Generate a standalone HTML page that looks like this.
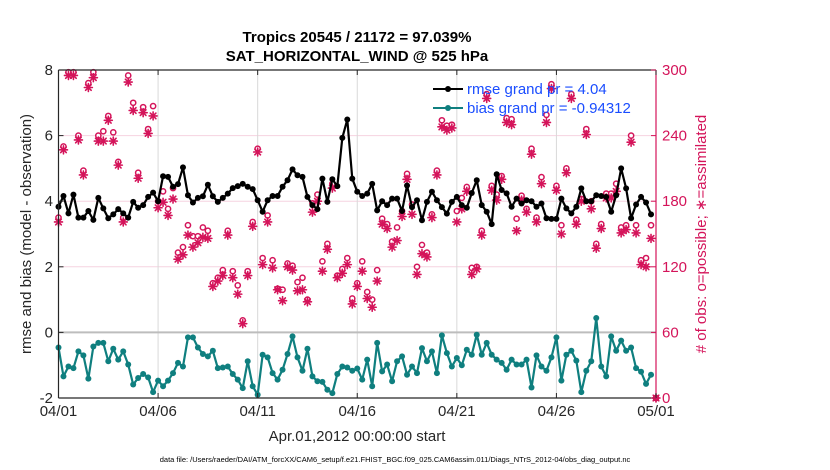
<!DOCTYPE html>
<html><head><meta charset="utf-8"><style>
html,body{margin:0;padding:0;background:#fff;}
svg{display:block;font-family:"Liberation Sans",Arial,sans-serif;}
</style></head><body>
<svg id="chart" width="830" height="470" viewBox="0 0 830 470">
  <rect x="0" y="0" width="830" height="470" fill="#fff"/>
  <g id="grid"></g>
  <g id="obs"></g>
  <g id="lines"></g>
  <g id="axes"></g>
  <text x="357" y="42" text-anchor="middle" font-size="15" font-weight="bold" fill="#000">Tropics 20545 / 21172 = 97.039%</text>
  <text x="357" y="61" text-anchor="middle" font-size="15" font-weight="bold" fill="#000">SAT_HORIZONTAL_WIND @ 525 hPa</text>
  <text transform="translate(31,234) rotate(-90)" text-anchor="middle" font-size="15" fill="#262626">rmse and bias (model - observation)</text>
  <text transform="translate(706,234) rotate(-90)" text-anchor="middle" font-size="15" fill="#d4145a"># of obs: o=possible; ∗=assimilated</text>
  <text x="357" y="441" text-anchor="middle" font-size="15" fill="#262626">Apr.01,2012 00:00:00 start</text>
  <text x="395" y="462" text-anchor="middle" font-size="7.5" fill="#000">data file: /Users/raeder/DAI/ATM_forcXX/CAM6_setup/f.e21.FHIST_BGC.f09_025.CAM6assim.011/Diags_NTrS_2012-04/obs_diag_output.nc</text>
  <g>
    <line x1="433" y1="89" x2="463" y2="89" stroke="#000" stroke-width="2"/>
    <circle cx="448" cy="89" r="3" fill="#000"/>
    <text x="467" y="94" font-size="15" fill="#1a4dff">rmse grand pr = 4.04</text>
    <line x1="433" y1="108" x2="463" y2="108" stroke="#0f7f7f" stroke-width="2"/>
    <circle cx="448" cy="108" r="3" fill="#0f7f7f"/>
    <text x="467" y="113" font-size="15" fill="#1a4dff">bias grand pr = -0.94312</text>
  </g>
</svg>
<script>
const xTickLabels = ["04/01","04/06","04/11","04/16","04/21","04/26","05/01"];
const leftTicks = [-2,0,2,4,6,8];
const rightTicks = [0,60,120,180,240,300];
const rmse = [3.83,4.16,3.63,4.2,3.5,3.5,3.7,3.43,4.1,3.78,3.48,3.6,3.76,3.63,3.5,3.98,3.8,3.88,4.13,4.26,4.0,4.76,4.74,4.44,4.52,5.03,4.18,3.96,4.1,4.15,4.5,4.15,3.98,4.1,4.23,4.4,4.46,4.53,4.44,4.37,4.03,3.68,4.03,4.16,4.16,4.44,4.64,4.97,4.79,4.74,4.13,3.88,3.76,4.69,3.98,4.67,4.46,5.93,6.49,4.69,4.29,4.16,4.23,4.53,3.72,4.0,3.88,4.08,4.08,3.7,4.48,3.82,4.03,3.42,3.98,4.29,4.03,3.82,3.62,3.98,4.13,3.88,3.8,4.25,4.64,3.88,3.68,3.3,4.82,4.34,4.24,3.83,4.08,3.93,4.03,4.0,3.83,3.93,3.48,3.46,3.46,4.08,3.78,3.63,3.83,4.39,4.0,4.0,4.18,4.16,4.13,3.68,4.18,5.0,4.39,3.48,3.9,4.13,3.96,3.6,null];
const bias = [-0.46,-1.34,-1.04,-1.09,-0.58,-0.7,-1.41,-0.43,-0.32,-0.32,-0.88,-0.5,-0.83,-0.58,-0.98,-1.59,-1.39,-1.27,-1.37,-1.82,-1.47,-1.64,-1.47,-1.24,-0.93,-1.04,-0.15,-0.15,-0.46,-0.66,-0.73,-0.56,-1.09,-1.07,-1.04,-1.27,-1.44,-1.7,-0.88,-1.64,-1.9,-0.68,-0.76,-1.24,-1.44,-1.14,-0.66,-0.12,-0.76,-1.17,-0.5,-1.34,-1.49,-1.51,-1.75,-1.85,-1.27,-1.04,-1.07,-1.17,-1.1,-1.44,-0.83,-1.64,-0.32,-1.19,-0.98,-1.49,-0.88,-0.73,-1.29,-1.04,-1.24,-0.48,-0.88,-0.58,-1.24,-0.09,-0.63,-1.04,-0.78,-1.0,-0.53,-0.68,-0.07,-0.68,-0.32,-0.68,-0.83,-0.93,-1.14,-0.83,-0.98,-0.98,-0.83,-1.68,-0.7,-1.04,-1.17,-0.76,-0.15,-1.47,-0.68,-0.56,-0.86,-1.82,-1.17,-0.88,0.44,-1.04,-1.34,-0.12,-0.56,-0.25,-0.56,-0.46,-1.09,-1.2,-1.57,-1.29,null];
const obsAssim = [161,227,295,295,236,204,284,293,235,235,254,235,213,161,289,263,201,261,242,258,174,179,167,182,127,131,149,138,142,147,146,102,107,112,149,110,95,68,112,157,225,122,161,119,99,89,120,117,98,99,88,170,180,116,136,192,110,114,122,86,102,116,91,83,107,159,155,138,144,166,200,168,113,132,129,165,204,248,245,247,161,173,189,113,118,149,274,190,181,200,252,250,153,181,170,223,161,196,252,283,190,150,206,274,159,180,241,173,137,155,183,183,189,151,154,234,151,122,120,146,0];
const obsPoss = [165,230,298,298,240,208,288,298,240,244,258,243,216,165,295,270,206,266,246,267,180,189,173,192,133,138,158,148,148,156,153,105,110,117,153,116,103,71,116,161,228,128,167,126,100,99,123,121,106,110,90,178,186,125,141,196,112,118,128,91,105,125,97,90,117,164,159,143,156,171,205,177,120,140,133,168,208,254,249,250,171,183,193,119,120,153,278,194,186,203,256,255,164,185,173,228,165,202,259,287,194,158,210,278,163,182,246,180,141,159,187,187,196,156,158,240,158,126,128,158,0];

const NS = "http://www.w3.org/2000/svg";
const X0 = 58.5, X1 = 656, Y0 = 398, Y1 = 70;
function xDay(d){ return X0 + d/30*(X1-X0); }
function xIdx(i){ return xDay(i*0.25); }
function yL(v){ return Y0 - (v+2)/10*(Y0-Y1); }
function yR(c){ return Y0 - c/300*(Y0-Y1); }
function mk(tag, attrs, parent){ const e=document.createElementNS(NS,tag); for(const k in attrs) e.setAttribute(k,attrs[k]); parent.appendChild(e); return e; }

const gridG = document.getElementById('grid');
const axesG = document.getElementById('axes');
const obsG = document.getElementById('obs');
const linesG = document.getElementById('lines');

leftTicks.forEach(function(v){
  if(v===-2||v===8||v===0) return;
  const g = mk('line',{x1:X0,x2:X1,y1:yL(v),y2:yL(v),stroke:'#f6d3e0','stroke-width':1},gridG);
  
  
});
xTickLabels.forEach(function(t,k){
  const x = xDay(k*5);
  if(k>0 && k<xTickLabels.length-1){
    const g = mk('line',{x1:x,x2:x,y1:Y1,y2:Y0,stroke:'#d9d9d9','stroke-width':1},gridG);
    
    
  }
});
const zeroLine = mk('line',{x1:X0,x2:X1,y1:yL(0),y2:yL(0),stroke:'#bdbdbd','stroke-width':2},gridG);



function drawStar(cx,cy,parent){
  const g = mk('g',{stroke:'#d4145a','stroke-width':1.6,'stroke-linecap':'round'},parent);
  const r=4;
  [[r,0],[0,r],[r*0.7,r*0.7],[r*0.7,-r*0.7]].forEach(function(d){
    mk('line',{x1:cx-d[0],y1:cy-d[1],x2:cx+d[0],y2:cy+d[1]},g);
  });
  return g;
}
obsPoss.forEach(function(c,i){
  const ci = mk('circle',{cx:xIdx(i),cy:yR(c),r:2.6,fill:'#fff',stroke:'#d4145a','stroke-width':1.5},obsG);
  
  
});
obsAssim.forEach(function(c,i){
  const s = drawStar(xIdx(i),yR(c),obsG);
  
  
});

function drawSeries(arr,color,name){
  let d='';
  arr.forEach(function(v,i){ if(v===null) return; d += (d?'L':'M')+xIdx(i).toFixed(2)+','+yL(v).toFixed(2); });
  const p = mk('path',{d:d,fill:'none',stroke:color,'stroke-width':2.2,'stroke-linejoin':'round'},linesG);
  
  
  arr.forEach(function(v,i){
    if(v===null) return;
    const c = mk('circle',{cx:xIdx(i),cy:yL(v),r:3,fill:color},linesG);
    
    
  });
}
drawSeries(rmse,'#000','rmse');
drawSeries(bias,'#0f7f7f','bias');

const topBorder = mk('line',{x1:X0,x2:X1,y1:Y1,y2:Y1,stroke:'#262626','stroke-width':1.2},axesG);


const bottomAxis = mk('line',{x1:X0,x2:X1,y1:Y0,y2:Y0,stroke:'#262626','stroke-width':1.2},axesG);


const leftAxis = mk('line',{x1:X0,x2:X0,y1:Y1,y2:Y0,stroke:'#262626','stroke-width':1.2},axesG);


const rightAxis = mk('line',{x1:X1,x2:X1,y1:Y1,y2:Y0,stroke:'#d4145a','stroke-width':1.2},axesG);



xTickLabels.forEach(function(t,k){
  const x = xDay(k*5);
  mk('line',{x1:x,x2:x,y1:Y0,y2:Y0-5,stroke:'#262626','stroke-width':1},axesG);
  mk('line',{x1:x,x2:x,y1:Y1,y2:Y1+5,stroke:'#262626','stroke-width':1},axesG);
  const tx = mk('text',{x:x,y:416,'text-anchor':'middle','font-size':15,fill:'#262626'},axesG);
  tx.textContent = t;
  
  
});
leftTicks.forEach(function(v){
  const y = yL(v);
  mk('line',{x1:X0,x2:X0+5,y1:y,y2:y,stroke:'#262626','stroke-width':1},axesG);
  const tx = mk('text',{x:53,y:y+5,'text-anchor':'end','font-size':15,fill:'#262626'},axesG);
  tx.textContent = String(v);
  
  
});
rightTicks.forEach(function(v){
  const y = yR(v);
  mk('line',{x1:X1-5,x2:X1,y1:y,y2:y,stroke:'#d4145a','stroke-width':1},axesG);
  const tx = mk('text',{x:662,y:y+5,'text-anchor':'start','font-size':15,fill:'#d4145a'},axesG);
  tx.textContent = String(v);
  
  
});
</script>
</body></html>
